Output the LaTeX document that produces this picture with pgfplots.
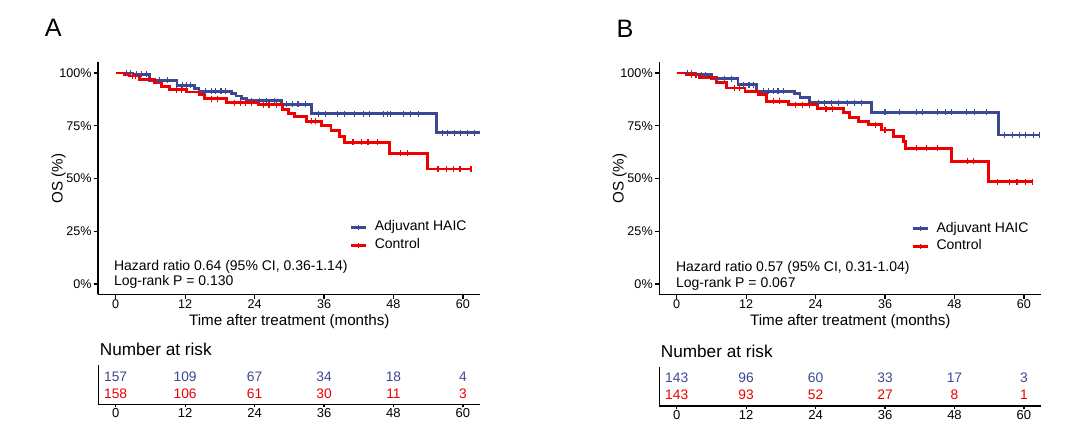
\documentclass[border=0pt]{standalone}
\usepackage{pgfplots}
\pgfplotsset{compat=1.18}
\usepackage{fontspec}
\setmainfont{Liberation Sans}

\definecolor{haicblue}{HTML}{3B4992}
\definecolor{ctrlred}{HTML}{EE0000}

\newcommand{\fs}[1]{\fontsize{#1}{#1}\selectfont}

\pgfplotsset{
  common/.style={
    scale only axis, width=191pt,
    xmin=-3, xmax=63,
    xtick={0,12,...,60},
    axis x line*=bottom, axis y line*=left,
    axis line style={-, line width=0.8pt},
    tick align=outside, major tick length=2.3pt,
    tick style={black, line width=0.6pt},
    /pgf/number format/assume math mode=true,
  },
  km/.style={
    common, height=116pt,
    ymin=-5, ymax=105,
    ytick={0,25,50,75,100},
    yticklabel={\pgfmathprintnumber{\tick}\%},
    ticklabel style={font=\fs{6.3}},
    xticklabel style={inner sep=0.5pt, yshift=0.3pt},
    yticklabel style={inner sep=0.8pt},
    xlabel={Time after treatment (months)},
    ylabel={OS (\%)},
    label style={font=\fs{7.6}},
    xlabel style={at={(axis description cs:0.5,-0.117)}, anchor=center},
    ylabel style={at={(axis description cs:-0.104,0.5)}, anchor=center},
    legend style={draw=none, fill=none, inner sep=0pt, font=\fs{7},
      row sep=-1.6pt, cells={anchor=west},
      /tikz/every odd column/.append style={column sep=1.8pt}},
    legend image code/.code={
      \draw[#1] (0pt,0pt) -- (7.5pt,0pt);
      \draw[#1, line width=0.5pt] (3.75pt,-1.3pt) -- (3.75pt,1.3pt);},
  },
  curve/.style={const plot, line width=1.45pt},
  cens/.style={only marks, mark=|, mark size=1.5pt, mark options={line width=0.55pt}, forget plot},
  risk/.style={
    common, height=19.5pt, ymin=0, ymax=1, ytick=\empty,
    ticklabel style={font=\fs{6.5}, inner sep=0.5pt}, clip=false,
    major tick length=1.5pt,
  },
  rnum/.style={draw=none, mark=none, nodes near coords, point meta=explicit symbolic,
    every node near coord/.style={anchor=center, font=\fs{6.9}, text=#1}},
}

\begin{document}
\begin{tikzpicture}
\path[use as bounding box] (0,0) rectangle (540pt,216pt);

\node[font=\fs{12.6}, inner sep=0pt] at (26.65pt,201.85pt) {A};
\node[font=\fs{12.6}, inner sep=0pt] at (312.5pt,201.35pt) {B};

% ---------- panel A ----------
\begin{axis}[km, at={(49.15pt,68.75pt)}, anchor=south west,
  legend style={at={(axis description cs:0.656,0.337)}, anchor=north west}]
\addplot[curve, haicblue] coordinates {
  (0,100) (3.0,99.4) (5.9,96.6) (10.6,94.2) (13.6,92.6) (14.4,91.3)
  (20.0,90.3) (20.8,89.1) (21.7,87.9) (22.6,86.8) (28.6,85.1) (33.8,80.8)
  (55.5,71.8) (62.9,71.8)};
\addlegendentry{Adjuvant HAIC}
\addplot[curve, ctrlred] coordinates {
  (0,100) (1.55,99.4) (2.4,98.6) (4.1,97.0) (6.7,95.3) (7.9,93.7) (9.3,92.1)
  (12.2,91.0) (14.4,89.8) (15.4,87.9) (19.1,86.0) (24.6,84.9) (28.8,82.7)
  (29.8,80.8) (30.9,79.2) (32.9,77.2) (35.5,75.0) (37.2,72.6) (38.7,70.1)
  (39.6,67.2) (47.3,61.9) (53.9,54.5) (61.4,54.5)};
\addlegendentry{Control}
\addplot[cens, haicblue] coordinates {
  (1.8,100) (2.6,100) (3.6,99.4) (4.5,99.4) (5.3,99.4)
  (7.5,96.6) (9.0,96.6) (11.5,94.2) (12.3,94.2) (13.0,94.2)
  (15.5,91.3) (16.5,91.3) (17.3,91.3) (18.2,91.3) (19.0,91.3)
  (23.5,86.8) (24.8,86.8) (26.0,86.8) (27.5,86.8)
  (29.5,85.1) (30.5,85.1) (31.5,85.1) (32.8,85.1)
  (35.0,80.8) (36.2,80.8) (38.3,80.8) (39.5,80.8) (41.2,80.8) (42.8,80.8)
  (43.8,80.8) (46.3,80.8) (46.9,80.8) (47.5,80.8) (49.8,80.8) (50.9,80.8) (52.3,80.8)
  (56.5,71.8) (57.4,71.8) (58.5,71.8) (59.6,71.8) (60.8,71.8) (62.0,71.8)};
\addplot[cens, ctrlred] coordinates {
  (2.9,98.6) (3.5,98.6) (10.5,92.1) (11.3,92.1) (16.5,87.9) (17.6,87.9)
  (20.5,86.0) (21.5,86.0) (22.5,86.0) (23.5,86.0) (25.5,84.9) (26.5,84.9) (27.8,84.9)
  (33.8,77.2) (34.6,77.2) (41.0,67.2) (42.5,67.2) (43.6,67.2) (45.3,67.2)
  (49.2,61.9) (50.4,61.9) (55.7,54.5) (57.1,54.5) (58.3,54.5) (59.5,54.5) (61.4,54.5)};
\node[anchor=west, inner sep=0pt, font=\fs{7}] at (axis cs:-0.35,8.0) {Hazard ratio 0.64 (95\% CI, 0.36-1.14)};
\node[anchor=west, inner sep=0pt, font=\fs{7}] at (axis cs:-0.35,0.75) {Log-rank P = 0.130};
\end{axis}

\begin{axis}[risk, at={(49.15pt,13.75pt)}, anchor=south west]
\addplot[rnum=haicblue] coordinates {(0,0.72)[157] (12,0.72)[109] (24,0.72)[67] (36,0.72)[34] (48,0.72)[18] (60,0.72)[4]};
\addplot[rnum=ctrlred] coordinates {(0,0.28)[158] (12,0.28)[106] (24,0.28)[61] (36,0.28)[30] (48,0.28)[11] (60,0.28)[3]};
\node[anchor=base west, inner sep=0pt, font=\fs{8.6}] at (rel axis cs:0.003,1) [yshift=4.75pt] {Number at risk};
\end{axis}

% ---------- panel B ----------
\begin{axis}[km, at={(329.65pt,68.75pt)}, anchor=south west,
  legend style={at={(axis description cs:0.658,0.332)}, anchor=north west}]
\addplot[curve, haicblue] coordinates {
  (0,100) (3.0,99.3) (6.0,97.3) (10.6,94.4) (13.8,91.4) (20.4,90.1) (21.3,88.6)
  (23.0,85.9) (33.7,81.4) (55.6,70.6) (62.8,70.6)};
\addlegendentry{Adjuvant HAIC}
\addplot[curve, ctrlred] coordinates {
  (0,100) (1.7,99.3) (4.0,97.8) (6.9,95.4) (8.6,92.9) (11.8,91.2) (14.1,89.8)
  (15.5,86.7) (19.3,84.9) (24.4,83.0) (28.8,81.4) (29.9,79.0) (31.4,77.1)
  (33.1,75.4) (35.4,73.0) (37.4,70.0) (39.2,67.4) (39.6,64.3) (47.5,58.1)
  (53.9,48.4) (61.5,48.4)};
\addlegendentry{Control}
\addplot[cens, haicblue] coordinates {
  (1.8,100) (2.5,100) (3.5,99.3) (4.3,99.3) (5.0,99.3)
  (7.0,97.3) (8.3,97.3) (9.5,97.3) (11.5,94.4) (12.5,94.4) (13.2,94.4)
  (15.0,91.4) (15.8,91.4) (16.8,91.4) (17.5,91.4) (18.5,91.4)
  (24.5,85.9) (25.5,85.9) (26.8,85.9) (28.0,85.9) (29.5,85.9) (30.8,85.9) (32.0,85.9)
  (36.0,81.4) (38.5,81.4) (41.5,81.4) (42.5,81.4) (45.0,81.4) (46.5,81.4)
  (47.5,81.4) (50.0,81.4) (51.5,81.4) (53.5,81.4)
  (56.7,70.6) (58.0,70.6) (59.2,70.6) (60.3,70.6) (61.6,70.6) (62.7,70.6)};
\addplot[cens, ctrlred] coordinates {
  (2.5,99.3) (3.2,99.3) (10.0,92.9) (10.8,92.9) (16.8,86.7) (17.8,86.7)
  (20.5,84.9) (21.8,84.9) (23.0,84.9) (25.8,83.0) (27.0,83.0) (34.3,75.4) (36.0,73.0)
  (41.5,64.3) (43.2,64.3) (45.0,64.3) (50.2,58.1) (51.3,58.1)
  (55.5,48.4) (57.5,48.4) (58.8,48.4) (60.3,48.4) (61.5,48.4)};
\node[anchor=west, inner sep=0pt, font=\fs{7}] at (axis cs:-0.17,7.6) {Hazard ratio 0.57 (95\% CI, 0.31-1.04)};
\node[anchor=west, inner sep=0pt, font=\fs{7}] at (axis cs:-0.17,0.2) {Log-rank P = 0.067};
\end{axis}

\begin{axis}[risk, at={(329.65pt,13pt)}, anchor=south west]
\addplot[rnum=haicblue] coordinates {(0,0.72)[143] (12,0.72)[96] (24,0.72)[60] (36,0.72)[33] (48,0.72)[17] (60,0.72)[3]};
\addplot[rnum=ctrlred] coordinates {(0,0.28)[143] (12,0.28)[93] (24,0.28)[52] (36,0.28)[27] (48,0.28)[8] (60,0.28)[1]};
\node[anchor=base west, inner sep=0pt, font=\fs{8.6}] at (rel axis cs:0.003,1) [yshift=4.75pt] {Number at risk};
\end{axis}
\end{tikzpicture}
\end{document}
